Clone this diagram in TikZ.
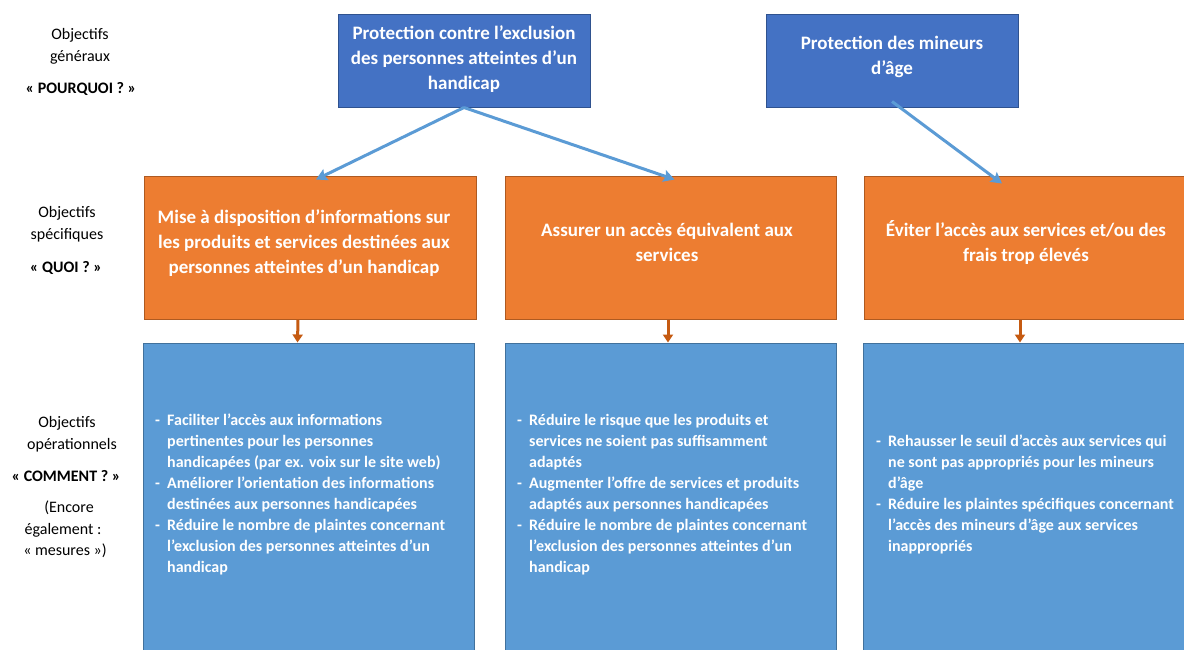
\documentclass[tikz,border=0pt]{standalone}
\usepackage{fontspec}
\setmainfont{Carlito}
\usetikzlibrary{arrows.meta}
\definecolor{gblue}{HTML}{4472C4}
\definecolor{gblueb}{HTML}{2F528F}
\definecolor{orng}{HTML}{ED7D31}
\definecolor{orngb}{HTML}{AE5A21}
\definecolor{lblue}{HTML}{5B9BD5}
\definecolor{lblueb}{HTML}{41719C}
\definecolor{arrorng}{HTML}{C55A11}
\tikzset{
  gbox/.style={draw=gblueb, fill=gblue, line width=1pt, inner sep=0pt},
  obox/.style={draw=orngb, fill=orng, line width=1pt, inner sep=0pt},
  lbox/.style={draw=lblueb, fill=lblue, line width=1pt, inner sep=0pt},
  bigtxt/.style={text=white, inner sep=0pt, font=\fontsize{19}{25}\selectfont\bfseries},
  listtxt/.style={text=white, inner sep=0pt, anchor=base west, font=\fontsize{16}{21}\selectfont\bfseries},
  lbl/.style={inner sep=0pt, anchor=base, font=\fontsize{16}{22}\selectfont},
  lblb/.style={inner sep=0pt, anchor=base, font=\fontsize{16}{22}\selectfont\bfseries},
  barr/.style={draw=lblue, line width=3pt, -{Stealth[length=11pt,width=12pt,inset=2pt]}},
  oarr/.style={draw=arrorng, line width=3pt, -{Triangle[length=8pt,width=10pt]}}
}
\newcommand{\bigtab}[1]{\begin{tabular}[t]{@{}c@{}}#1\end{tabular}}
\newcommand{\listtab}[1]{\begin{tabular}[t]{@{}p{12pt}@{}l@{}}#1\end{tabular}}
\begin{document}
\begin{tikzpicture}[x=1pt,y=-1pt]
\clip (0,0) rectangle (1184,650);
\fill[white] (0,0) rectangle (1184,650);

% top boxes
\node[gbox, minimum width=252pt, minimum height=93pt] (g1) at (464,61.5) {};
\node[gbox, minimum width=252pt, minimum height=93pt] (g2) at (892,61.5) {};
% orange boxes
\node[obox, minimum width=332pt, minimum height=142pt] (s1) at (310,248) {};
\node[obox, minimum width=331pt, minimum height=142pt] (s2) at (670.5,248) {};
\node[obox, minimum width=332pt, minimum height=142pt] (s3) at (1030,248) {};
% lower boxes
\node[lbox, minimum width=331pt, minimum height=320pt] (o1) at (308.5,503) {};
\node[lbox, minimum width=331pt, minimum height=320pt] (o2) at (670.5,503) {};
\node[lbox, minimum width=332pt, minimum height=320pt] (o3) at (1029,503) {};

% top texts
\node[bigtxt, anchor=base] (g1t) at (464,40) {\bigtab{Protection contre l’exclusion\\des personnes atteintes d’un\\handicap}};
\node[bigtxt, anchor=base] (g2t) at (892,50) {\bigtab{Protection des mineurs\\d’âge}};
% orange texts
\node[bigtxt, anchor=base] (s1t) at (304,223) {\bigtab{Mise à disposition d’informations sur\\les produits et services destinées aux\\personnes atteintes d’un handicap}};
\node[bigtxt, anchor=base] (s2t) at (667,236) {\bigtab{Assurer un accès équivalent aux\\services}};
\node[bigtxt, anchor=base] (s3t) at (1026,236) {\bigtab{Éviter l’accès aux services et/ou des\\frais trop élevés}};

% list texts
\node[listtxt] (o1t) at (155,425) {\listtab{- & Faciliter l’accès aux informations\\
 & pertinentes pour les personnes\\
 & handicapées (par ex. voix sur le site web)\\
- & Améliorer l’orientation des informations\\
 & destinées aux personnes handicapées\\
- & Réduire le nombre de plaintes concernant\\
 & l’exclusion des personnes atteintes d’un\\
 & handicap}};
\node[listtxt] (o2t) at (517,425) {\listtab{- & Réduire le risque que les produits et\\
 & services ne soient pas suffisamment\\
 & adaptés\\
- & Augmenter l’offre de services et produits\\
 & adaptés aux personnes handicapées\\
- & Réduire le nombre de plaintes concernant\\
 & l’exclusion des personnes atteintes d’un\\
 & handicap}};
\node[listtxt] (o3t) at (876,446) {\listtab{- & Rehausser le seuil d’accès aux services qui\\
 & ne sont pas appropriés pour les mineurs\\
 & d’âge\\
- & Réduire les plaintes spécifiques concernant\\
 & l’accès des mineurs d’âge aux services\\
 & inappropriés}};

% left labels
\node[lbl] (l1a) at (80,40) {Objectifs};
\node[lbl] (l1b) at (80,62) {généraux};
\node[lblb] (l1c) at (81,94) {« POURQUOI ? »};
\node[lbl] (l2a) at (67,217) {Objectifs};
\node[lbl] (l2b) at (67,239) {spécifiques};
\node[lblb] (l2c) at (66,272) {« QUOI ? »};
\node[lbl] (l3a) at (67,427) {Objectifs};
\node[lbl] (l3b) at (72,449) {opérationnels};
\node[lblb] (l3c) at (66,481) {« COMMENT ? »};
\node[lbl] (l3d) at (69,512) {(Encore};
\node[lbl] (l3e) at (63,534) {également :};
\node[lbl] (l3f) at (65,555) {« mesures »)};

% connectors
\draw[barr] ([yshift=1pt]g1.south) -- ([xshift=6pt,yshift=-3pt]s1.north);
\draw[barr] ([yshift=1pt]g1.south) -- ([xshift=4pt,yshift=-3pt]s2.north);
\draw[barr] ([yshift=7pt]g2.south) -- ([xshift=-28pt,yshift=-7pt]s3.north);
\draw[oarr] ([xshift=-12pt]s1.south) -- ([xshift=-11pt]o1.north);
\draw[oarr] ([xshift=-2.5pt]s2.south) -- ([xshift=-2.5pt]o2.north);
\draw[oarr] ([xshift=-10pt]s3.south) -- ([xshift=-9pt]o3.north);
\end{tikzpicture}
\end{document}
